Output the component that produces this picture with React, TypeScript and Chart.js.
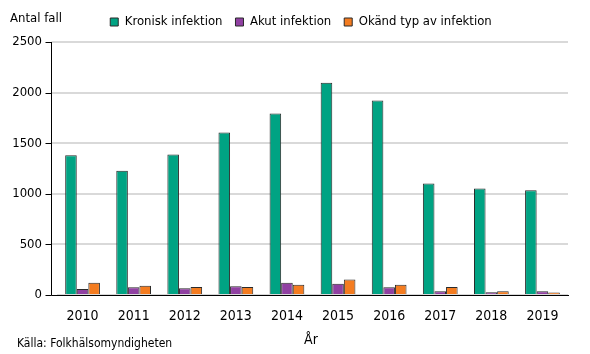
import React, { useEffect, useRef } from "react";
import { Chart, registerables } from "chart.js";

Chart.register(...registerables);

const years = ["2010", "2011", "2012", "2013", "2014", "2015", "2016", "2017", "2018", "2019"];
const kronisk = [1380, 1229, 1389, 1606, 1793, 2097, 1923, 1103, 1053, 1034];
const akut = [59, 76, 66, 86, 122, 112, 76, 36, 27, 36];
const okand = [122, 92, 79, 79, 102, 152, 102, 79, 36, 24];
const yMax = 2500;
const yStep = 500;

const FONT = '"DejaVu Sans Condensed", "DejaVu Sans", sans-serif';

const extras = {
  id: "extras",
  afterLayout(chart: any) {
    if (chart.legend) chart.legend.left = 34;
  },
  afterDraw(chart: any) {
    const { ctx, chartArea, scales } = chart;
    const y = scales.y;
    const axisX = 51.5;
    ctx.save();
    y.ticks.forEach((t: any) => {
      const py = Math.round(y.getPixelForValue(t.value));
      if (t.value !== 0) {
        ctx.strokeStyle = "#d9d9d9";
        ctx.lineWidth = 2;
        ctx.beginPath();
        ctx.moveTo(axisX, py);
        ctx.lineTo(chartArea.left, py);
        ctx.stroke();
      }
    });
    ctx.strokeStyle = "#000";
    ctx.lineWidth = 1;
    ctx.beginPath();
    const bottom = Math.round(chartArea.bottom) + 0.5;
    ctx.moveTo(axisX, Math.round(chartArea.top));
    ctx.lineTo(axisX, bottom);
    ctx.moveTo(axisX, bottom);
    ctx.lineTo(chartArea.left, bottom);
    y.ticks.forEach((t: any) => {
      const py = Math.round(y.getPixelForValue(t.value)) + 0.5;
      ctx.moveTo(axisX - 6, py);
      ctx.lineTo(axisX, py);
    });
    ctx.stroke();
    ctx.fillStyle = "#000";
    ctx.textBaseline = "alphabetic";
    ctx.font = `13px ${FONT}`;
    ctx.textAlign = "left";
    ctx.fillText("Antal fall", 10, 22);
    ctx.font = `14px ${FONT}`;
    ctx.textAlign = "center";
    ctx.fillText("År", 311, 344);
    ctx.font = `12px ${FONT}`;
    ctx.textAlign = "left";
    ctx.fillText("Källa: Folkhälsomyndigheten", 17, 347);
    ctx.restore();
  },
};

export default function App() {
  const ref = useRef<HTMLCanvasElement | null>(null);
  useEffect(() => {
    if (!ref.current) return;
    const border = "#2a2a2a";
    const chart = new Chart(ref.current, {
      type: "bar",
      data: {
        labels: years,
        datasets: [
          { label: "Kronisk infektion", data: kronisk, backgroundColor: "#00A383", borderColor: border, borderWidth: 1 },
          { label: "Akut infektion", data: akut, backgroundColor: "#9040A2", borderColor: border, borderWidth: 1 },
          { label: "Okänd typ av infektion", data: okand, backgroundColor: "#F47C20", borderColor: border, borderWidth: 1 },
        ],
      },
      options: {
        animation: false,
        responsive: true,
        maintainAspectRatio: false,
        layout: { padding: { top: 2.5, left: 0, right: 22, bottom: 0 } },
        datasets: { bar: { categoryPercentage: 0.68, barPercentage: 1 } } as any,
        plugins: {
          legend: {
            position: "top",
            labels: {
              boxWidth: 8,
              boxHeight: 8,
              padding: 13,
              color: "#000",
              font: { family: FONT, size: 13 },
            },
          },
          title: {
            display: true,
            text: " ",
            weight: 500,
            font: { size: 1, lineHeight: 1 },
            padding: { top: 0, bottom: 2.5 },
          } as any,
          tooltip: { enabled: false },
        },
        scales: {
          x: {
            grid: { display: false, drawTicks: false },
            border: { display: true, color: "#000", width: 1 },
            ticks: { color: "#000", padding: 13, font: { family: FONT, size: 14 } },
            afterFit: (s: any) => { s.height = 59; },
          },
          y: {
            min: 0,
            max: yMax,
            grid: { color: "#d9d9d9", lineWidth: 2, drawTicks: false },
            border: { display: false },
            ticks: {
              stepSize: yStep,
              color: "#000",
              padding: 15,
              font: { family: FONT, size: 13 },
              callback: (v: any) => String(v),
            },
            afterFit: (s: any) => { s.width = 57; },
          },
        },
      },
      plugins: [extras],
    });
    return () => chart.destroy();
  }, []);
  return (
    <div style={{ position: "fixed", left: 0, top: 0, width: 590, height: 354, background: "#fff" }}>
      <canvas ref={ref} />
    </div>
  );
}
